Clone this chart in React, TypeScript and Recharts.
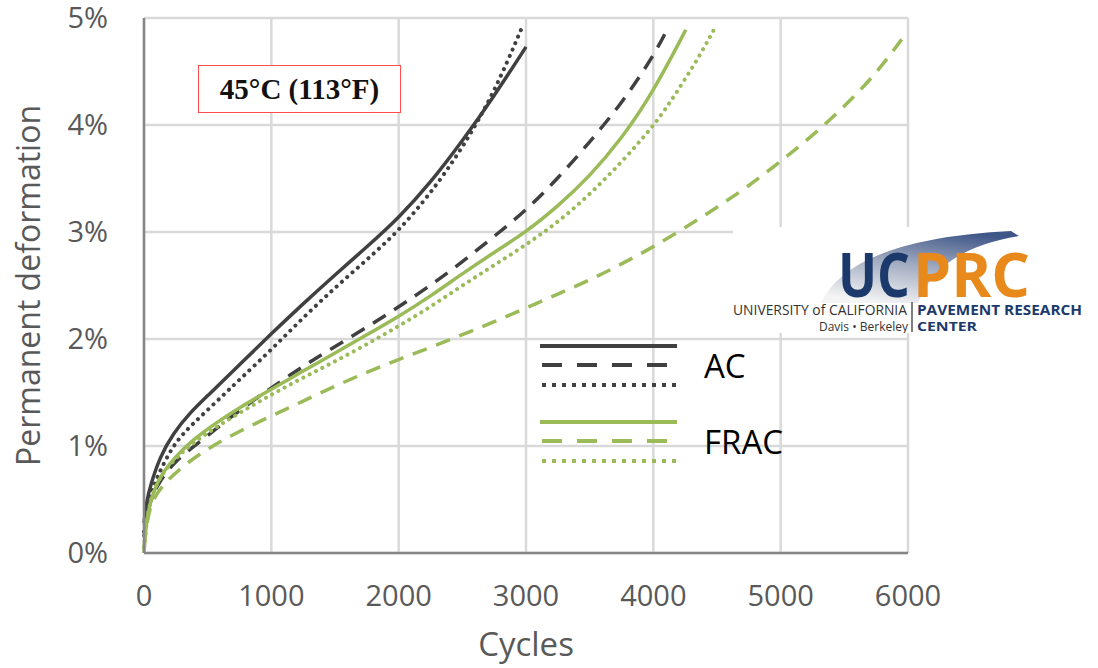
import { CartesianGrid, Line, LineChart, XAxis, YAxis } from "recharts";

const cycleTicks = [0, 1000, 2000, 3000, 4000, 5000, 6000];
const pctTicks = [0, 1, 2, 3, 4, 5];

// AC mixes (dark)
const acSolidCycles = [0, 20, 50, 125, 230, 360, 500, 750, 1000, 1250, 1500, 1750, 2000, 2250, 2500, 2750, 3000];
const acSolidPct = [0.28, 0.48, 0.63, 0.9, 1.12, 1.31, 1.47, 1.76, 2.05, 2.33, 2.6, 2.86, 3.13, 3.46, 3.85, 4.27, 4.73];

const acDashCycles = [0, 20, 50, 100, 230, 460, 650, 860, 1070, 1280, 1500, 1750, 2000, 2250, 2500, 2750, 3000, 3250, 3500, 3750, 4000, 4120];
const acDashPct = [0.15, 0.36, 0.48, 0.63, 0.85, 1.06, 1.24, 1.43, 1.6, 1.77, 1.93, 2.11, 2.3, 2.5, 2.72, 2.96, 3.2, 3.5, 3.84, 4.2, 4.64, 4.92];

const acDotCycles = [0, 20, 50, 100, 230, 335, 440, 600, 750, 1000, 1250, 1500, 1750, 2000, 2250, 2500, 2750, 2975];
const acDotPct = [0.2, 0.4, 0.52, 0.71, 1.01, 1.15, 1.27, 1.45, 1.62, 1.9, 2.2, 2.48, 2.74, 3.01, 3.36, 3.78, 4.3, 4.93];

// FRAC mixes (green)
const fracSolidCycles = [0, 20, 75, 150, 255, 385, 570, 750, 1000, 1250, 1500, 1750, 2000, 2250, 2500, 2750, 3000, 3250, 3500, 3750, 4000, 4255];
const fracSolidPct = [0, 0.34, 0.59, 0.76, 0.91, 1.06, 1.22, 1.36, 1.53, 1.7, 1.87, 2.04, 2.21, 2.4, 2.61, 2.81, 3.0, 3.24, 3.52, 3.87, 4.31, 4.89];

const fracDashCycles = [0, 30, 70, 150, 310, 520, 750, 1000, 1250, 1500, 1750, 2000, 2250, 2500, 2750, 3000, 3250, 3500, 3750, 4000, 4250, 4500, 4750, 5000, 5250, 5500, 5750, 5950];
const fracDashPct = [0.05, 0.35, 0.5, 0.64, 0.82, 0.99, 1.14, 1.28, 1.42, 1.56, 1.69, 1.81, 1.92, 2.04, 2.16, 2.29, 2.42, 2.55, 2.7, 2.86, 3.04, 3.23, 3.43, 3.66, 3.9, 4.17, 4.48, 4.8];

const fracDotCycles = [0, 25, 60, 125, 280, 490, 750, 1000, 1250, 1500, 1750, 2000, 2250, 2500, 2750, 3000, 3250, 3500, 3750, 4000, 4125, 4250, 4375, 4480];
const fracDotPct = [0.05, 0.35, 0.53, 0.72, 0.93, 1.12, 1.31, 1.48, 1.64, 1.79, 1.95, 2.12, 2.3, 2.5, 2.69, 2.88, 3.09, 3.35, 3.65, 3.99, 4.2, 4.43, 4.67, 4.9];

const DARK = "#404040";
const GREEN = "#9bbb59";
const GRID = "#d9d9d9";
const AXIS = "#868686";
const TEXT = "#595959";
const FONT = "'Open Sans', sans-serif";

const DASH = "15 10";
const DOT = "0.1 7";

const toPoints = (cycles: number[], pct: number[]) => cycles.map((x, i) => ({ x, y: pct[i] }));

const series = [
  { key: "acSolid", color: DARK, dash: undefined, data: toPoints(acSolidCycles, acSolidPct) },
  { key: "acDash", color: DARK, dash: DASH, data: toPoints(acDashCycles, acDashPct) },
  { key: "acDot", color: DARK, dash: DOT, data: toPoints(acDotCycles, acDotPct) },
  { key: "fracSolid", color: GREEN, dash: undefined, data: toPoints(fracSolidCycles, fracSolidPct) },
  { key: "fracDash", color: GREEN, dash: DASH, data: toPoints(fracDashCycles, fracDashPct) },
  { key: "fracDot", color: GREEN, dash: DOT, data: toPoints(fracDotCycles, fracDotPct) },
];

const legendGroups = [
  { label: "AC", color: DARK },
  { label: "FRAC", color: GREEN },
];

function KeyBox() {
  return (
    <svg width={280} height={150} style={{ position: "absolute", left: 530, top: 330 }}>
      {legendGroups.map((g, gi) => {
        const y0 = 16 + gi * 76;
        return (
          <g key={g.label}>
            <line x1={10} x2={147} y1={y0} y2={y0} stroke={g.color} strokeWidth={4} />
            <line x1={12} x2={140} y1={y0 + 19} y2={y0 + 19} stroke={g.color} strokeWidth={4} strokeDasharray="20 15" />
            <line x1={12} x2={150} y1={y0 + 39} y2={y0 + 39} stroke={g.color} strokeWidth={4} strokeDasharray="4 6" />
            <text x={174} y={y0 + 32} fontSize={33} fontFamily={FONT} fill="#000">
              {g.label}
            </text>
          </g>
        );
      })}
    </svg>
  );
}

function Logo() {
  return (
    <div style={{ position: "absolute", left: 733, top: 227, width: 365, height: 106, background: "#fff" }}>
      <svg width={365} height={106}>
        <defs>
          <linearGradient id="swoosh" x1="0.7" y1="0" x2="0.3" y2="1">
            <stop offset="0%" stopColor="#3f5688" />
            <stop offset="50%" stopColor="#a3adc2" />
            <stop offset="100%" stopColor="#f4f4f4" />
          </linearGradient>
        </defs>
        <path d="M 88 76 Q 118 12 278 4 L 286 9 Q 205 22 185 76 Z" fill="url(#swoosh)" />
        <text x={105} y={70} fontSize={60} fontWeight={700} fontFamily={FONT} fill="#1b3a6b" textLength={72} lengthAdjust="spacingAndGlyphs">
          UC
        </text>
        <text x={180} y={70} fontSize={60} fontWeight={700} fontFamily={FONT} fill="#e8891c" textLength={117} lengthAdjust="spacingAndGlyphs">
          PRC
        </text>
        <text x={0} y={88} fontSize={14} fontFamily={FONT} fill="#333" textLength={174} lengthAdjust="spacingAndGlyphs">
          UNIVERSITY of CALIFORNIA
        </text>
        <line x1={179} x2={179} y1={75} y2={105} stroke="#555" strokeWidth={1.5} />
        <text x={184} y={88} fontSize={14} fontWeight={700} fontFamily={FONT} fill="#1b3a6b" textLength={165} lengthAdjust="spacingAndGlyphs">
          PAVEMENT RESEARCH
        </text>
        <text x={86} y={104} fontSize={13} fontFamily={FONT} fill="#333" textLength={89} lengthAdjust="spacingAndGlyphs">
          Davis • Berkeley
        </text>
        <text x={184} y={104} fontSize={13} fontWeight={700} fontFamily={FONT} fill="#1b3a6b" textLength={60} lengthAdjust="spacingAndGlyphs">
          CENTER
        </text>
      </svg>
    </div>
  );
}

export default function App() {
  return (
    <div style={{ position: "absolute", left: 0, top: 0, width: 1098, height: 668, background: "#fff" }}>
      <LineChart width={1098} height={668} margin={{ top: 18, right: 190, left: 0, bottom: 0 }}>
        <CartesianGrid stroke={GRID} strokeWidth={2.5} />
        <XAxis
          type="number"
          dataKey="x"
          domain={[0, 6000]}
          ticks={cycleTicks}
          height={115}
          axisLine={{ stroke: AXIS, strokeWidth: 2.5 }}
          tickLine={false}
          tickSize={0}
          tickMargin={32}
          tick={{ fill: TEXT, fontSize: 29, fontFamily: FONT }}
          label={{ value: "Cycles", position: "insideBottom", offset: 12, fill: TEXT, fontSize: 33, fontFamily: FONT }}
        />
        <YAxis
          type="number"
          dataKey="y"
          domain={[0, 5]}
          ticks={pctTicks}
          width={144}
          axisLine={{ stroke: AXIS, strokeWidth: 2.5 }}
          tickLine={false}
          tickSize={0}
          tickMargin={36}
          tickFormatter={(v: number) => `${v}%`}
          tick={{ fill: TEXT, fontSize: 29, fontFamily: FONT }}
          label={{
            value: "Permanent deformation",
            angle: -90,
            position: "insideLeft",
            offset: 29,
            fill: TEXT,
            fontSize: 32,
            fontFamily: FONT,
            style: { textAnchor: "middle" },
          }}
        />
        {series.map((s) => (
          <Line
            key={s.key}
            data={s.data}
            dataKey="y"
            type="basis"
            stroke={s.color}
            strokeWidth={s.dash === DOT ? 4 : 3.5}
            strokeDasharray={s.dash}
            strokeLinecap={s.dash === DOT ? "round" : "butt"}
            dot={false}
            activeDot={false}
            isAnimationActive={false}
          />
        ))}
      </LineChart>
      <div
        style={{
          position: "absolute",
          left: 198,
          top: 65,
          width: 201,
          height: 46,
          border: "1.5px solid #ff4d4d",
          background: "#fff",
          display: "flex",
          alignItems: "center",
          justifyContent: "center",
          fontFamily: "'Liberation Serif', serif",
          fontWeight: 700,
          fontSize: 29,
          color: "#111",
        }}
      >
        45°C (113°F)
      </div>
      <Logo />
      <KeyBox />
    </div>
  );
}
